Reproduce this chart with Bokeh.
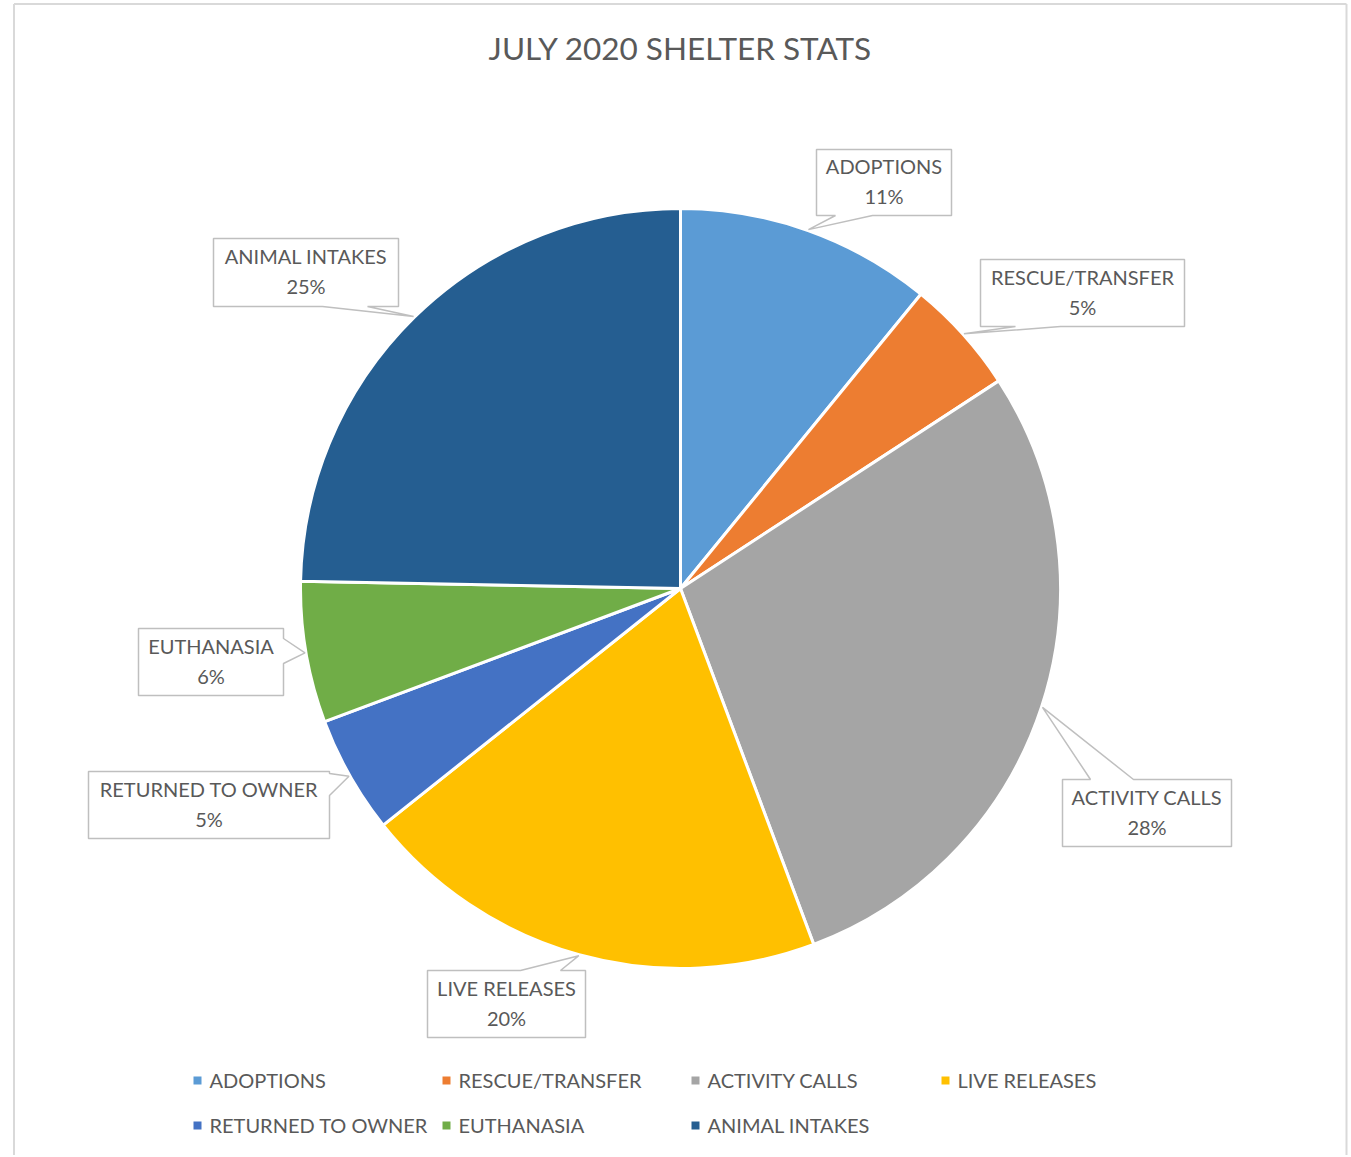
import numpy as np
from bokeh.plotting import figure
from bokeh.models import Range1d
from bokeh.core.properties import value
from bokeh.embed import file_html
from bokeh.resources import INLINE

# ---------------- data ----------------
title = "JULY 2020 SHELTER STATS"
categories = ["ADOPTIONS", "RESCUE/TRANSFER", "ACTIVITY CALLS", "LIVE RELEASES",
              "RETURNED TO OWNER", "EUTHANASIA", "ANIMAL INTAKES"]
shares = [10.9, 4.9, 28.5, 20.0, 5.0, 6.0, 24.7]
colors = ["#5B9BD5", "#ED7D31", "#A5A5A5", "#FFC000", "#4472C4", "#70AD47", "#255E91"]

# ---------------- layout (page pixels) ----------------
W, H = 1348, 1155
FONT = "Lato"
TXT = "#595959"
BOX_LINE = "#BFBFBF"
CX, CY, R = 680, 588, 380

# callout boxes: (left, top, right, bottom), pointer side, pointer base span
boxes = [
    ((816, 149, 951, 215), "bottom", (835, 872)),
    ((980, 259, 1184, 326), "bottom", (1015, 1060)),
    ((1062, 779, 1231, 846), "top", (1090, 1133)),
    ((427, 970, 585, 1037), "top", (520, 560)),
    ((88, 771, 329, 838), "right", (773, 795)),
    ((138, 628, 283, 695), "right", (638, 663)),
    ((213, 238, 398, 306), "bottom", (322, 367)),
]
legend_pos = [(209, 1079), (458, 1079), (707, 1079), (957, 1079),
              (209, 1124), (458, 1124), (707, 1124)]


def Y(py):
    return H - py


p = figure(width=W, height=H, output_backend="svg", toolbar_location=None,
           x_range=Range1d(0, W), y_range=Range1d(0, H),
           min_border=0, outline_line_color=None)
p.axis.visible = False
p.grid.visible = False
p.background_fill_color = "white"
p.border_fill_color = "white"

# chart border
p.line([13.5, 13.5], [Y(1160), Y(3.5)], line_color="#D9D9D9", line_width=2)
p.line([1346, 1346], [Y(1160), Y(3.5)], line_color="#D9D9D9", line_width=2)
p.line([13.5, 1346], [Y(3.5), Y(3.5)], line_color="#D9D9D9", line_width=2)

# pie
total = float(sum(shares))
frac = np.array(shares) / total
cum = np.concatenate([[0.0], np.cumsum(frac)])
starts = np.pi / 2 - 2 * np.pi * cum[:-1]
ends = np.pi / 2 - 2 * np.pi * cum[1:]
p.wedge(x=[CX] * len(shares), y=[Y(CY)] * len(shares), radius=R,
        start_angle=list(starts), end_angle=list(ends), direction="clock",
        fill_color=colors, line_color="white", line_width=3)

# callouts
mids = (cum[:-1] + cum[1:]) / 2 * 2 * np.pi
xs, ys = [], []
for (box, side, base), th in zip(boxes, mids):
    l, t, r, b = box
    tx = CX + (R + 1) * np.sin(th)
    ty = CY - (R + 1) * np.cos(th)
    if side == "bottom":
        pts = [(l, t), (r, t), (r, b), (base[1], b), (tx, ty), (base[0], b), (l, b)]
    elif side == "top":
        pts = [(l, t), (base[0], t), (tx, ty), (base[1], t), (r, t), (r, b), (l, b)]
    else:
        pts = [(l, t), (r, t), (r, base[0]), (tx, ty), (r, base[1]), (r, b), (l, b)]
    xs.append([q[0] for q in pts])
    ys.append([Y(q[1]) for q in pts])
p.patches(xs, ys, fill_color="white", line_color=BOX_LINE, line_width=1.5)

lx, ly1, ly2, pct = [], [], [], []
for (box, _, _), name, f in zip(boxes, categories, frac):
    l, t, r, b = box
    cxb = (l + r) / 2
    cyb = (t + b) / 2 - 1.5
    lx.append(cxb)
    ly1.append(Y(cyb - 15))
    ly2.append(Y(cyb + 15))
    pct.append(f"{round(f * 100)}%")
p.text(x=lx, y=ly1, text=categories, text_font=value(FONT), text_font_size="20px",
       text_color=TXT, text_align="center", text_baseline="middle")
p.text(x=lx, y=ly2, text=pct, text_font=value(FONT), text_font_size="20px",
       text_color=TXT, text_align="center", text_baseline="middle")

# title
p.text(x=[680], y=[Y(47)], text=[title], text_font=value(FONT), text_font_size="31.5px",
       text_color=TXT, text_align="center", text_baseline="middle")

# legend
p.scatter(x=[q[0] - 12 for q in legend_pos], y=[Y(q[1] + 1) for q in legend_pos],
          marker="square", size=8, fill_color=colors, line_color=None)
p.text(x=[q[0] for q in legend_pos], y=[Y(q[1]) for q in legend_pos], text=categories,
       text_font=value(FONT), text_font_size="20px", text_color=TXT,
       text_align="left", text_baseline="middle")

open("out.html", "w").write(file_html(p, INLINE))
